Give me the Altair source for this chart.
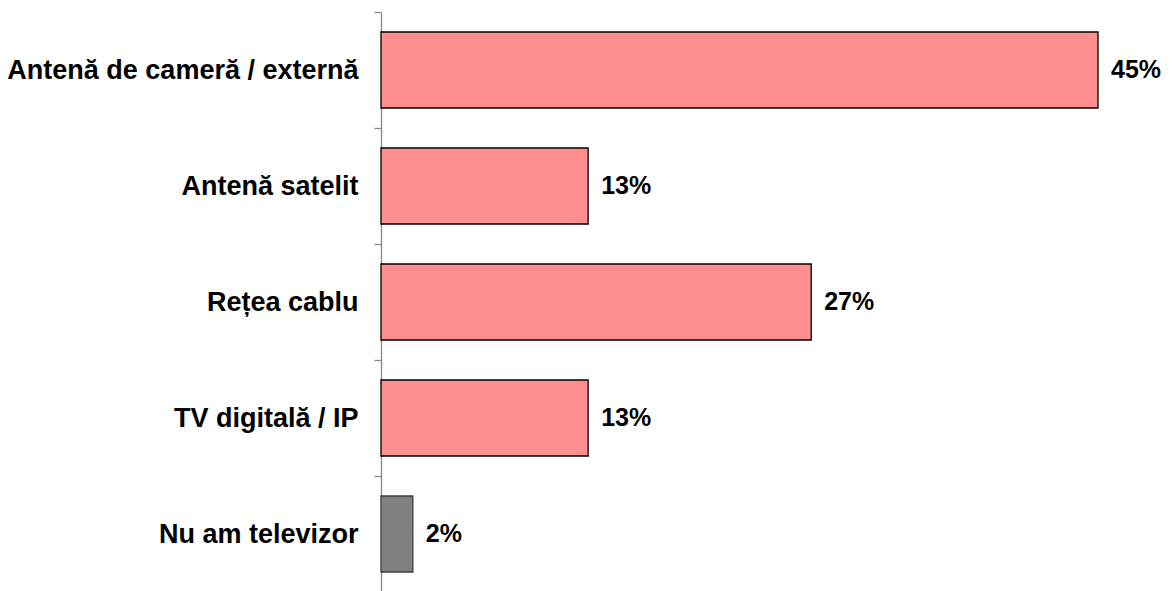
import altair as alt
import pandas as pd

categories = ["Antenă de cameră / externă", "Antenă satelit", "Rețea cablu", "TV digitală / IP", "Nu am televizor"]
values = [45, 13, 27, 13, 2]
fills = ["#FF8F8F", "#FF8F8F", "#FF8F8F", "#FF8F8F", "#808080"]
strokes = ["#000000", "#000000", "#000000", "#000000", "#3F3F3F"]
labels = [f"{v}%" for v in values]

df = pd.DataFrame({"cat": categories, "val": values, "fill": fills, "stroke": strokes, "label": labels})

y = alt.Y("cat:N", sort=categories, title=None,
          scale=alt.Scale(paddingInner=0, paddingOuter=0),
          axis=alt.Axis(tickBand="extent", domainColor="#868686", tickColor="#868686",
                        tickSize=7, labelPadding=16, labelFontSize=27, labelFont="Liberation Sans",
                        labelFontWeight="bold", labelColor="#000000", labelLimit=400,
                        domainWidth=1.3, tickWidth=1.3))
x = alt.X("val:Q", scale=alt.Scale(domain=[0, 45], nice=False, zero=True), axis=None, title=None)

bars = alt.Chart(df).mark_bar(height=76, strokeWidth=1.3).encode(
    y=y, x=x,
    fill=alt.Fill("fill:N", scale=None),
    stroke=alt.Stroke("stroke:N", scale=None),
)
text = alt.Chart(df).mark_text(align="left", baseline="middle", dx=13, fontSize=25,
                               font="Liberation Sans", fontWeight="bold", color="#000000").encode(
    y=alt.Y("cat:N", sort=categories), x=x, text="label:N")

chart = alt.layer(bars, text).properties(
    width=717, height=580,
    autosize=alt.AutoSizeParams(type="none"),
    padding={"left": 373, "top": 4, "right": 66, "bottom": 0},
).configure_view(stroke=None)

chart.save("out.html", embed_options={"renderer": "svg", "actions": False})
